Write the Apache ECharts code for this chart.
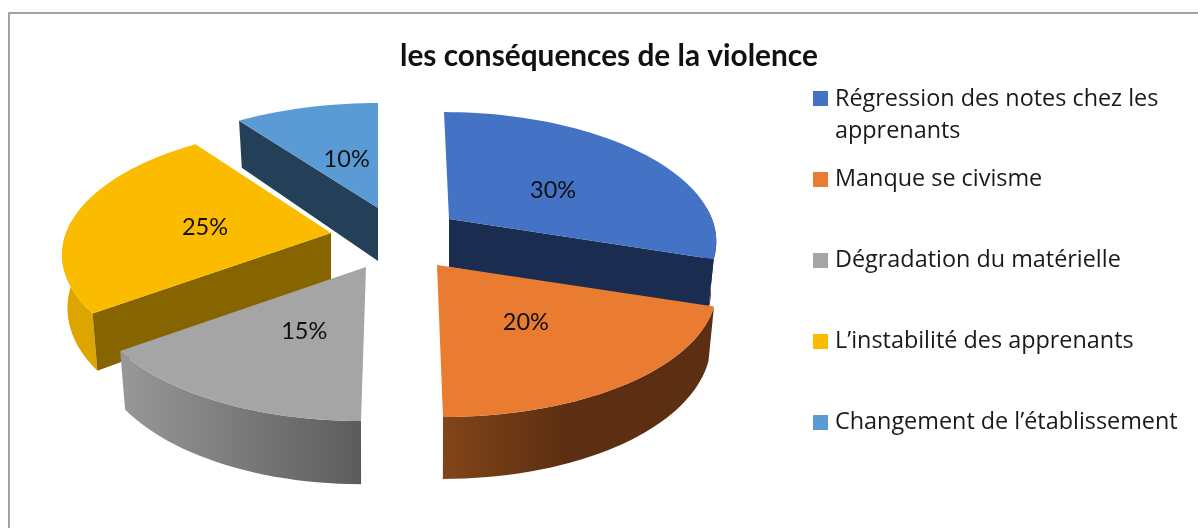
<!DOCTYPE html>
<html>
<head>
<meta charset="utf-8">
<style>html,body{margin:0;padding:0;background:#fff}#c{width:1198px;height:528px}</style>
<script src="https://cdn.jsdelivr.net/npm/echarts@6/dist/echarts.min.js"></script>
</head>
<body>
<div id="c"></div>
<script>
const chartTitle = 'les conséquences de la violence';
const sliceNames = [
  'Régression des notes chez les apprenants',
  'Manque se civisme',
  'Dégradation du matérielle',
  'L’instabilité des apprenants',
  'Changement de l’établissement'
];
const sliceValues = [30, 20, 15, 25, 10];
const topColors = ['#4472c4', '#e97c30', '#a5a5a5', '#fbbc00', '#5b9bd5'];
const cutWallColors = ['#1a2c50', '#5f3113', '#6a6a6a', '#866500', '#243f58'];
const rimStops = [
  ['#1a2c50', '#1a2c50'],
  ['#824518', '#5c2f12'],
  ['#989898', '#5c5c5c'],
  ['#dca500', '#dca500'],
  ['#243f58', '#243f58']
];
// Drawing geometry of the perspective pie (not data)
const apexes = [[449, 219], [437, 265], [366, 267], [331, 233], [378, 208]];
const radiiX = [263, 275, 272, 265, 267];
const radiiY = [124, 127.7, 129.4, 124, 121.8];
const depths = [48, 52, 53, 52, 53];
const leans = [5, 6, -5, -3, 0];
const labelNudges = [[4, 4], [0, 0], [7, 0], [3, 2], [7, 3]];
const layers = [1, 3, 3, 2, 1];
const persp = 0.16, baseShrink = 0.98;

const total = sliceValues.reduce((a, b) => a + b, 0);
const starts = [];
sliceValues.reduce((acc, v, i) => { starts[i] = acc; return acc + v / total * 360; }, 0);

function project(i, deg, r, lowered) {
  const apex = apexes[i];
  const t = deg * Math.PI / 180;
  const u = r * Math.sin(t), v = r * Math.cos(t);
  const d = 1 + persp * v;
  let x = radiiX[i] * u / d - leans[i] * v, y = -radiiY[i] * v / d;
  if (lowered) { x *= baseShrink; y += depths[i] / d; }
  return [apex[0] + x, apex[1] + y];
}
function arc(i, a, b, lowered) {
  const pts = [];
  const n = Math.max(2, Math.ceil(Math.abs(b - a) / 2));
  for (let k = 0; k <= n; k++) pts.push(project(i, a + (b - a) * k / n, 1, lowered));
  return pts;
}
function cutWall(i, deg, fill) {
  const o = project(i, deg, 1, false), ob = project(i, deg, 1, true);
  const a = project(i, deg, 0, false), ab = project(i, deg, 0, true);
  return { type: 'polygon', shape: { points: [a, o, ob, ab] }, style: { fill } };
}
function makeRender(i) {
  return function (params, api) {
    const value = api.value(0);
    const s = starts[i], e = s + value / total * 360;
    const children = [];
    const ra = Math.max(s, 85), rb = Math.min(e, 275);
    if (rb > ra) {
      const upper = arc(i, ra, rb, false);
      const lower = arc(i, rb, ra, true);
      children.push({
        type: 'polygon',
        shape: { points: upper.concat(lower) },
        style: {
          fill: new echarts.graphic.LinearGradient(0, 0, 1, 0, [
            { offset: 0, color: rimStops[i][0] },
            { offset: i === 1 ? 0.45 : 1, color: rimStops[i][1] },
            { offset: 1, color: rimStops[i][1] }
          ])
        }
      });
    }
    if (s > 180) children.push(cutWall(i, s, cutWallColors[i]));
    if (e < 180) children.push(cutWall(i, e, cutWallColors[i]));
    children.push({
      type: 'polygon',
      shape: { points: [project(i, s, 0, false)].concat(arc(i, s, e, false)) },
      style: { fill: topColors[i] }
    });
    const lp = project(i, (s + e) / 2, 0.5, false);
    children.push({
      type: 'text',
      style: {
        text: value + '%', x: lp[0] + labelNudges[i][0], y: lp[1] + 2 + labelNudges[i][1],
        align: 'center', verticalAlign: 'middle',
        fill: '#111', font: '23.5px Lato, sans-serif'
      }
    });
    return { type: 'group', children };
  };
}

const legendText = { fontFamily: '"Open Sans", sans-serif', fontSize: 23.4, color: '#1a1a1a' };
const chart = echarts.init(document.getElementById('c'), null, { renderer: 'canvas' });
chart.setOption({
  animation: false,
  backgroundColor: '#fff',
  title: {
    text: chartTitle, left: 395, top: 36,
    textStyle: { fontFamily: 'Lato, sans-serif', fontWeight: 'bold', fontSize: 29.8, color: '#111' }
  },
  legend: [
    {
      data: [sliceNames[0]], left: 813, top: 81, padding: 0, selectedMode: false, orient: 'vertical',
      icon: 'path://M0 0H15V15H0Z M0 48H15', itemWidth: 15, itemHeight: 48, itemGap: 0,
      formatter: n => n.replace(' apprenants', '\napprenants'),
      textStyle: Object.assign({ lineHeight: 32, padding: [4, 0, 0, 2] }, legendText)
    },
    {
      data: sliceNames.slice(1), left: 813, top: 168, padding: 0, selectedMode: false, orient: 'vertical',
      icon: 'rect', itemWidth: 15, itemHeight: 15, itemGap: 58,
      textStyle: Object.assign({ lineHeight: 20, padding: [0, 0, 0, 2] }, legendText)
    }
  ],
  graphic: [{
    type: 'rect', silent: true,
    shape: { x: 9, y: 13, width: 1400, height: 800 },
    style: { fill: 'none', stroke: '#a3a3a3', lineWidth: 2 }
  }],
  series: sliceNames.map((name, i) => ({
    type: 'custom', name, coordinateSystem: 'none', z: layers[i] + 1,
    silent: true, itemStyle: { color: topColors[i] },
    data: [[sliceValues[i]]],
    renderItem: makeRender(i)
  }))
});
</script>
</body>
</html>
